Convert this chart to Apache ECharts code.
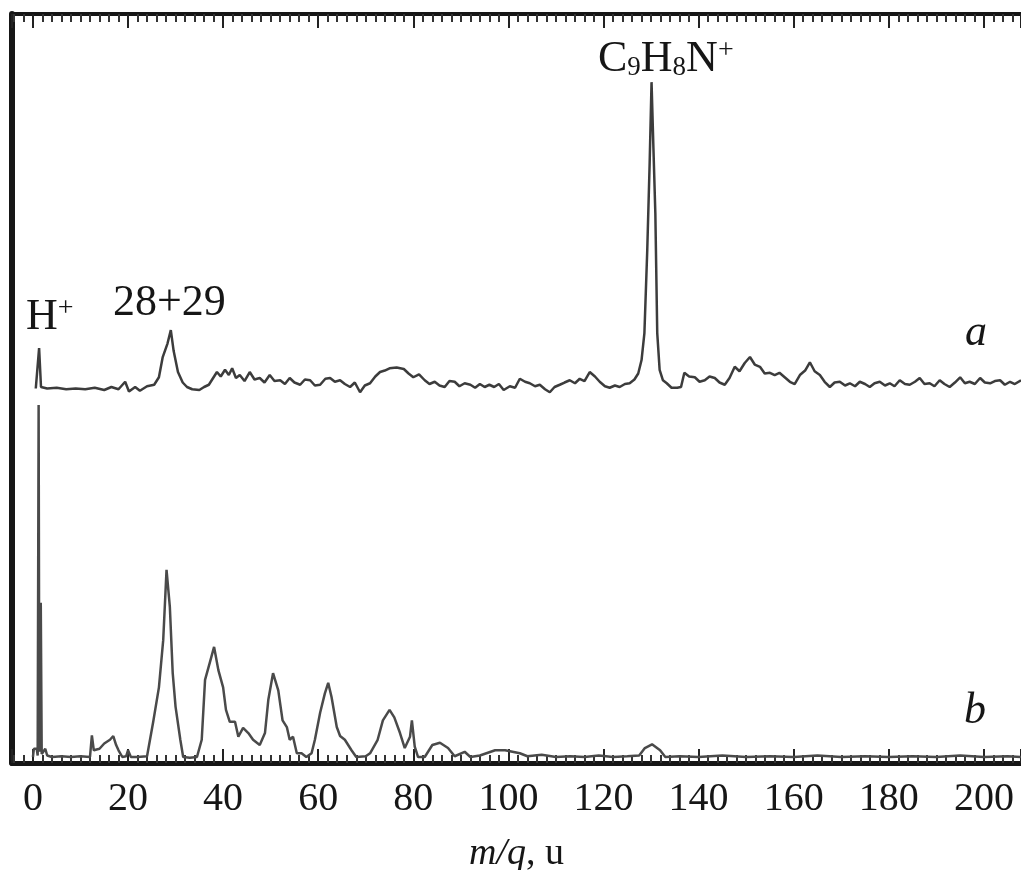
<!DOCTYPE html>
<html>
<head>
<meta charset="utf-8">
<script src="https://cdn.jsdelivr.net/npm/echarts@6/dist/echarts.min.js"></script>
<style>
  html, body { margin: 0; padding: 0; background: #fff; }
  #chart { width: 1021px; height: 870px; }
</style>
</head>
<body>
<div id="chart"></div>
<script>
  // m/q range shown on the frame
  var mzMin = -4.4;
  var mzMax = 207.8;

  // trace a (upper spectrum), [m/q, intensity] in arbitrary units (offset level ~50)
  var traceA = [
    [0.6, 50.0], [1.0, 50.1], [1.3, 55.4], [1.7, 50.2], [3, 50.0], [5, 50.1], [7, 49.9], [9, 50.0],
    [11, 49.9], [13, 50.1], [15, 49.8], [16.5, 50.2], [18, 49.9], [19.4, 50.9], [20.2, 49.6], [21.5, 50.2],
    [22.5, 49.7], [24, 50.3], [25.5, 50.5], [26.5, 51.5], [27.3, 54.2], [28.3, 56.0], [29, 57.8], [29.6, 55.0],
    [30.5, 52.2], [31.5, 50.8], [32.4, 50.2], [33.5, 49.9], [35, 49.8], [36, 50.2], [37, 50.5], [38, 51.5],
    [38.7, 52.2], [39.5, 51.6], [40.4, 52.5], [41.2, 51.8], [41.9, 52.7], [42.7, 51.4], [43.5, 51.8], [44.5, 51.0],
    [45.6, 52.2], [46.6, 51.2], [47.7, 51.4], [48.7, 50.8], [49.8, 51.8], [50.8, 51.0], [52, 51.1], [53, 50.6],
    [54, 51.4], [55, 50.8], [56.2, 50.5], [57.2, 51.2], [58.3, 51.1], [59.3, 50.4], [60.4, 50.5], [61.5, 51.3],
    [62.5, 51.4], [63.5, 50.9], [64.6, 51.1], [65.6, 50.6], [66.7, 50.2], [67.7, 50.8], [68.8, 49.5], [69.8, 50.4],
    [70.9, 50.7], [72, 51.6], [73, 52.2], [74, 52.4], [75, 52.7], [76.5, 52.8], [78, 52.6], [79, 52.0],
    [80, 51.5], [81.2, 51.9], [82.4, 51.1], [83.4, 50.6], [84.5, 50.9], [85.5, 50.4], [86.6, 50.2], [87.6, 51.0],
    [88.7, 50.9], [89.7, 50.3], [90.8, 50.7], [92, 50.5], [93, 50.1], [94, 50.6], [95, 50.2], [96, 50.5],
    [97, 50.2], [98, 50.6], [99, 49.8], [100.3, 50.3], [101.4, 50.1], [102.4, 51.3], [103.5, 50.9], [104.5, 50.7],
    [105.6, 50.3], [106.6, 50.5], [107.7, 49.9], [108.7, 49.5], [109.7, 50.2], [110.8, 50.5], [111.8, 50.8], [112.9, 51.1],
    [114, 50.7], [115, 51.3], [116, 51.0], [117.1, 52.2], [118.2, 51.6], [119.2, 50.9], [120.3, 50.3], [121.3, 50.1],
    [122.4, 50.4], [123.4, 50.2], [124.5, 50.6], [125.5, 50.7], [126.5, 51.2], [127.3, 52.0], [128, 53.8], [128.6, 57.4],
    [129.2, 68.5], [129.7, 80.0], [130.1, 90.9], [130.5, 82.0], [130.9, 73.4], [131.3, 57.4], [131.8, 52.5], [132.5, 51.1],
    [133.3, 50.7], [134.3, 50.1], [135.5, 50.1], [136.3, 50.2], [137, 52.1], [138, 51.6], [139.2, 51.5], [140.2, 50.9],
    [141.3, 51.1], [142.3, 51.6], [143.4, 51.4], [144.4, 50.8], [145.5, 50.5], [146.5, 51.4], [147.6, 52.9], [148.6, 52.3],
    [149.7, 53.4], [150.8, 54.2], [151.8, 53.2], [152.9, 52.9], [153.9, 52.0], [155, 52.1], [156, 51.8], [157, 52.1],
    [158.1, 51.5], [159.2, 50.9], [160.2, 50.6], [161.3, 51.8], [162.4, 52.4], [163.4, 53.5], [164.4, 52.3], [165.5, 51.8],
    [166.5, 50.9], [167.6, 50.2], [168.6, 50.8], [169.7, 50.9], [170.8, 50.4], [171.8, 50.7], [172.9, 50.3], [173.9, 50.9],
    [175, 50.6], [176, 50.2], [177, 50.7], [178.1, 50.9], [179.2, 50.4], [180.2, 50.7], [181.2, 50.3], [182.3, 51.1],
    [183.4, 50.6], [184.4, 50.5], [185.5, 50.9], [186.5, 51.4], [187.5, 50.6], [188.6, 50.7], [189.6, 50.3], [190.7, 51.1],
    [191.7, 50.6], [192.8, 50.2], [193.9, 50.8], [195, 51.5], [196, 50.7], [197, 50.9], [198.1, 50.6], [199.2, 51.4],
    [200.2, 50.8], [201.3, 50.7], [202.3, 51.0], [203.4, 51.1], [204.4, 50.5], [205.5, 50.9], [206.5, 50.6], [207.8, 51.1]
  ];

  // trace b (lower spectrum)
  var traceB = [
    [0, 0.8], [0.2, 1.9], [0.8, 1.9], [1.0, 1.0], [1.2, 47.8], [1.35, 1.5], [1.5, 1.6], [1.65, 21.4],
    [1.85, 1.2], [2.6, 1.9], [3, 1.0], [4, 0.8], [6, 0.9], [8, 0.8], [10, 0.9], [12, 0.8],
    [12.4, 3.7], [12.8, 1.7], [14, 1.9], [15, 2.6], [16.2, 3.1], [16.9, 3.6], [17.5, 2.4], [18, 1.7],
    [18.8, 0.8], [19.6, 0.9], [20, 1.7], [20.6, 0.8], [22, 0.8], [24, 0.9], [25.3, 5.5], [26.5, 10.1],
    [27.4, 16.4], [28.1, 25.8], [28.8, 20.8], [29.4, 12.0], [30, 7.5], [31, 3.1], [31.6, 0.8], [33, 0.7],
    [34.5, 0.8], [35.5, 3.1], [36.2, 11.1], [37.2, 13.4], [38.1, 15.5], [39, 12.4], [40, 10.1], [40.6, 7.1],
    [41.4, 5.5], [42.5, 5.5], [43.2, 3.5], [44.2, 4.7], [45.3, 4.0], [46.3, 3.1], [47.7, 2.4], [48.8, 4.0],
    [49.5, 8.4], [50.5, 12.0], [51.6, 9.7], [52.5, 5.7], [53.4, 4.8], [54, 3.1], [54.7, 3.5], [55.5, 1.3],
    [56.5, 1.3], [57.5, 0.8], [58.6, 1.3], [59.3, 3.1], [60.4, 6.7], [61.4, 9.3], [62.1, 10.7], [62.8, 8.8],
    [63.9, 4.8], [64.6, 3.6], [65.6, 3.1], [67, 1.7], [68, 0.8], [70, 0.9], [70.9, 1.3], [72.5, 3.1],
    [73.6, 5.7], [75, 7.1], [76, 6.1], [77.2, 4.0], [78.2, 2.0], [79.3, 3.5], [79.7, 5.7], [80.3, 2.2],
    [81, 0.8], [82.4, 0.8], [84, 2.4], [85.6, 2.7], [87.3, 2.0], [88.7, 0.9], [90.8, 1.5], [92, 0.8],
    [94, 1.0], [97.2, 1.7], [99.3, 1.7], [102.4, 1.3], [104, 0.9], [107, 1.1], [110, 0.8], [113, 0.9],
    [116, 0.8], [119, 1.0], [122, 0.8], [125, 0.9], [127.5, 1.0], [128.7, 2.0], [130.2, 2.5], [131.9, 1.7],
    [133, 0.8], [136, 0.9], [140, 0.8], [145, 1.0], [150, 0.8], [155, 0.9], [160, 0.8], [165, 1.0],
    [170, 0.8], [175, 0.9], [180, 0.8], [185, 0.9], [190, 0.8], [195, 1.0], [200, 0.8], [205, 0.9], [207.8, 0.8]
  ];

  var serif = '"Liberation Serif", "DejaVu Serif", serif';
  var ink = '#161616';

  var chart = echarts.init(document.getElementById('chart'));

  var tickCommon = {
    axisTick: { show: true, inside: true, length: 14, lineStyle: { color: '#222', width: 2 } },
    minorTick: { show: true, splitNumber: 10, length: 8, lineStyle: { color: '#333', width: 2 } },
    splitLine: { show: false },
    minorSplitLine: { show: false }
  };

  var option = {
    animation: false,
    backgroundColor: '#fff',
    grid: { left: 12, right: 0, top: 14, bottom: 107, containLabel: false, outerBoundsMode: 'none' },
    xAxis: [
      Object.assign({
        type: 'value',
        position: 'bottom',
        min: mzMin,
        max: mzMax,
        splitNumber: 10,
        axisLine: { onZero: false, lineStyle: { color: ink, width: 5 } },
        axisLabel: {
          margin: 16,
          fontFamily: serif,
          fontSize: 40,
          color: ink,
          formatter: function (v) { return v % 20 === 0 ? String(v) : ''; }
        },
        name: '{i|m/q}, u',
        nameLocation: 'middle',
        nameGap: 72,
        nameTextStyle: {
          fontFamily: serif,
          fontSize: 38,
          color: ink,
          rich: { i: { fontFamily: serif, fontSize: 38, fontStyle: 'italic', color: ink } }
        }
      }, tickCommon),
      Object.assign({
        type: 'value',
        position: 'top',
        min: mzMin,
        max: mzMax,
        splitNumber: 10,
        axisLine: { onZero: false, lineStyle: { color: ink, width: 4 } },
        axisLabel: { show: false }
      }, tickCommon)
    ],
    yAxis: {
      type: 'value',
      min: 0,
      max: 100,
      axisLine: { show: true, onZero: false, lineStyle: { color: ink, width: 6 } },
      axisTick: { show: false },
      axisLabel: { show: false },
      splitLine: { show: false }
    },
    series: [
      {
        name: 'a',
        type: 'line',
        xAxisIndex: 0,
        data: traceA,
        showSymbol: false,
        lineStyle: { color: '#3c3c3c', width: 2.5 }
      },
      {
        name: 'b',
        type: 'line',
        xAxisIndex: 0,
        data: traceB,
        showSymbol: false,
        lineStyle: { color: '#4a4a4a', width: 2.5 }
      }
    ],
    graphic: [
      {
        type: 'text', left: 598, top: 37,
        style: {
          text: '{n|C}{s|9}{n|H}{s|8}{n|N}{p|+}',
          fill: ink,
          rich: {
            n: { fontFamily: serif, fontSize: 44, lineHeight: 44, fill: ink },
            s: { fontFamily: serif, fontSize: 27, lineHeight: 6, verticalAlign: 'bottom', fill: ink },
            p: { fontFamily: serif, fontSize: 28, lineHeight: 12, verticalAlign: 'top', fill: ink }
          }
        }
      },
      {
        type: 'text', left: 26, top: 295,
        style: {
          text: '{n|H}{p|+}',
          fill: ink,
          rich: {
            n: { fontFamily: serif, fontSize: 44, lineHeight: 44, fill: ink },
            p: { fontFamily: serif, fontSize: 28, lineHeight: 12, verticalAlign: 'top', fill: ink }
          }
        }
      },
      {
        type: 'text', left: 113, top: 281,
        style: { text: '28+29', font: '44px ' + serif, fill: ink }
      },
      {
        type: 'text', left: 965, top: 311,
        style: { text: 'a', font: 'italic 44px ' + serif, fill: ink }
      },
      {
        type: 'text', left: 964, top: 689,
        style: { text: 'b', font: 'italic 44px ' + serif, fill: ink }
      }
    ]
  };

  chart.setOption(option);
</script>
</body>
</html>
